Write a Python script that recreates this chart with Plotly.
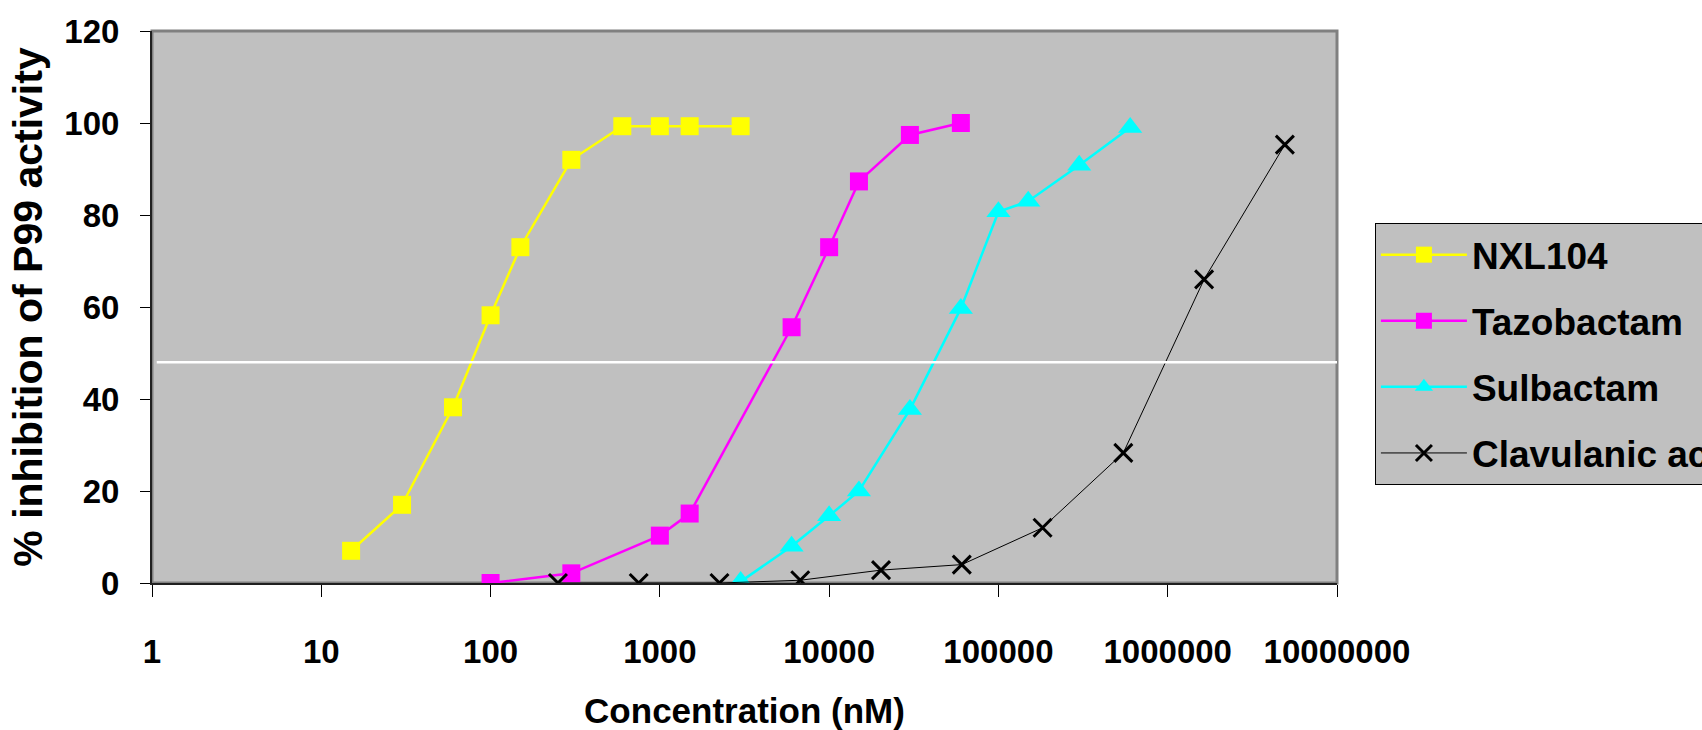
import plotly.graph_objects as go

# ---- data ----
nxl_x = [15, 30, 60, 100, 150, 300, 600, 1000, 1500, 3000]
nxl_y = [7, 17, 38.2, 58.2, 73, 92, 99.3, 99.3, 99.3, 99.3]

tazo_x = [100, 300, 1000, 1500, 6000, 10000, 15000, 30000, 60000]
tazo_y = [0, 2.1, 10.3, 15.1, 55.6, 73, 87.3, 97.4, 100]

sulb_x = [3000, 6000, 10000, 15000, 30000, 60000, 100000, 150000, 300000, 600000]
sulb_y = [0.3, 8, 14.6, 20, 37.7, 59.7, 80.7, 83, 90.8, 99]

clav_x = [250, 750, 2250, 6750, 20250, 60750, 182250, 546750, 1640250, 4920750]
clav_y = [0, 0, 0, 0.6, 2.8, 4, 12, 28.3, 66, 95.3]

x_tickvals = [1, 10, 100, 1000, 10000, 100000, 1000000, 10000000]
x_ticktext = ["1", "10", "100", "1000", "10000", "100000", "1000000", "10000000"]
y_tickvals = [0, 20, 40, 60, 80, 100, 120]
half_line_y = 48

FONT = "Liberation Sans, Arial, sans-serif"

fig = go.Figure()

fig.add_trace(go.Scatter(
    x=nxl_x, y=nxl_y, name="NXL104", mode="lines+markers", legendgroup="a",
    line=dict(color="#FFFF00", width=2.5),
    marker=dict(symbol="square", size=18, color="#FFFF00"),
))
fig.add_trace(go.Scatter(
    x=tazo_x, y=tazo_y, name="Tazobactam", mode="lines+markers", legendgroup="b",
    line=dict(color="#FF00FF", width=2.5),
    marker=dict(symbol="square", size=18, color="#FF00FF"),
))
fig.add_trace(go.Scatter(
    x=sulb_x, y=sulb_y, name="Sulbactam", mode="lines+markers", legendgroup="c",
    line=dict(color="#00FFFF", width=2.5),
    marker=dict(symbol="triangle-up", size=21, color="#00FFFF"),
))
fig.add_trace(go.Scatter(
    x=clav_x, y=clav_y, name="Clavulanic acid", mode="lines+markers", legendgroup="d",
    line=dict(color="#000000", width=1),
    marker=dict(symbol="x-thin", size=18, color="#000000",
                line=dict(color="#000000", width=3)),
))

# white reference line
fig.add_shape(type="line", xref="paper", yref="y", x0=0.004, x1=1.0,
              y0=half_line_y, y1=half_line_y, line=dict(color="white", width=2.5),
              layer="above")
# plot area border (grey)
fig.add_shape(type="rect", xref="paper", yref="paper", x0=0, x1=1, y0=0, y1=1,
              line=dict(color="#808080", width=3), layer="below")

fig.update_layout(
    width=1702, height=730,
    margin=dict(l=152, r=365, t=31, b=147, autoexpand=False),
    paper_bgcolor="white",
    plot_bgcolor="#C0C0C0",
    font=dict(family=FONT, color="black", size=33, weight="bold"),
    showlegend=True,
    legend=dict(
        x=1.032, xanchor="left", y=0.652, yanchor="top",
        bgcolor="#C0C0C0", bordercolor="#000000", borderwidth=1,
        font=dict(family=FONT, size=37, color="black", weight="bold"),
        traceorder="grouped", tracegroupgap=15, itemwidth=86,
    ),
    xaxis=dict(
        type="log", range=[0, 7],
        tickvals=x_tickvals, ticktext=x_ticktext,
        ticks="outside", ticklen=12, tickwidth=1, tickcolor="black",
        showline=True, linecolor="#202020", linewidth=2,
        showgrid=False, zeroline=False,
        tickfont=dict(family=FONT, size=33, weight="bold"),
        ticklabelstandoff=26,
        title=dict(text="Concentration (nM)", standoff=38,
                   font=dict(family=FONT, size=35, weight="bold")),
    ),
    yaxis=dict(
        range=[0, 120], tickvals=y_tickvals,
        ticks="outside", ticklen=10, tickwidth=1, tickcolor="black",
        showline=True, linecolor="#202020", linewidth=2,
        showgrid=False, zeroline=False,
        tickfont=dict(family=FONT, size=33, weight="bold"),
        ticklabelstandoff=14,
        title=dict(text="% inhibition of P99 activity", standoff=9,
                   font=dict(family=FONT, size=41, weight="bold")),
    ),
)

fig.write_html("out.html")
